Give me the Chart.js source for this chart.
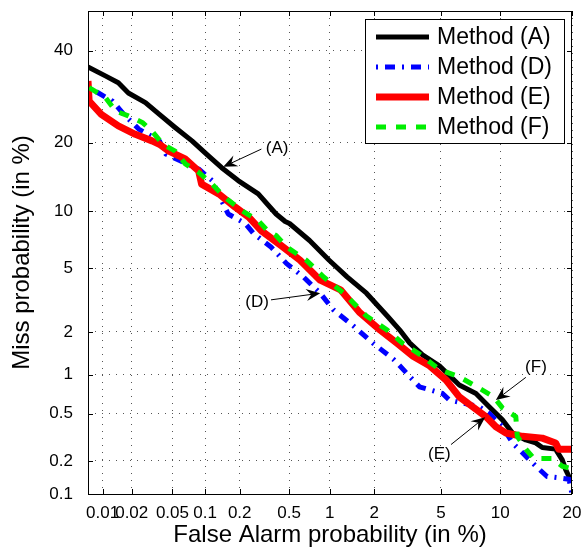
<!DOCTYPE html>
<html>
<head>
<meta charset="utf-8">
<script src="https://cdn.jsdelivr.net/npm/chart.js@4.4.1/dist/chart.umd.min.js"></script>
<style>
body { margin: 0; background: #fff; }
</style>
</head>
<body>
<canvas id="grafico" width="584" height="550"></canvas>
<script>
// tick values (in %) and their labels
const xTicks = [0.01, 0.02, 0.05, 0.1, 0.2, 0.5, 1, 2, 5, 10, 20];
const xLabels = ['0.01', '0.02', '0.05', '0.1', '0.2', '0.5', '1', '2', '5', '10', '20'];
const yTicks = [0.1, 0.2, 0.5, 1, 2, 5, 10, 20, 40];
const yLabels = ['0.1', '0.2', '0.5', '1', '2', '5', '10', '20', '40'];

// [false alarm %, miss %]
const methodA = [[0.007,36],[0.0107,33.9],[0.0146,32.3],[0.0185,30],[0.0274,27.9],[0.0375,25.4],[0.053,22.8],[0.076,20.3],[0.107,17.7],[0.14,15.8],[0.194,13.9],[0.285,12.1],[0.396,9.7],[0.467,8.9],[0.504,8.7],[0.714,7.1],[0.99,5.54],[1.32,4.45],[1.78,3.55],[2.42,2.55],[2.89,2.06],[3.32,1.68],[3.94,1.39],[4.9,1.16],[6.27,0.835],[7.63,0.72],[8.86,0.567],[10.24,0.445],[11.39,0.347],[13.04,0.303],[14.36,0.286],[15.3,0.261],[17.3,0.253],[18.37,0.204],[18.93,0.167],[19.48,0.145],[20,0.135]];
const methodD = [[0.007,31],[0.0084,30.4],[0.0127,28.2],[0.0167,25.4],[0.0235,22.5],[0.0375,20.3],[0.0433,18],[0.0591,16.9],[0.0874,15.6],[0.1155,13.9],[0.136,11.6],[0.1595,9.7],[0.223,8.69],[0.262,7.7],[0.361,6.55],[0.479,5.3],[0.641,4.45],[0.854,3.55],[1.06,2.8],[1.47,2.18],[1.96,1.68],[2.65,1.29],[2.89,1.16],[3.78,0.81],[5.1,0.72],[5.56,0.64],[7.91,0.567],[8.86,0.502],[10.24,0.391],[11.39,0.286],[14.36,0.18],[16,0.145],[17.8,0.141],[19.5,0.137],[20,0.1]];
const methodE = [[0.007,32.7],[0.0072,28.2],[0.0097,25.4],[0.0146,23.1],[0.0217,21.5],[0.0318,20.3],[0.0375,19.7],[0.0462,18.5],[0.0657,17.2],[0.0874,15.3],[0.093,13.4],[0.132,12.1],[0.182,10.5],[0.238,9.37],[0.301,8],[0.432,6.69],[0.607,5.54],[0.854,4.25],[1.19,3.72],[1.61,2.68],[2.18,2.06],[2.77,1.68],[3.47,1.36],[4.32,1.16],[5.33,0.912],[6.27,0.678],[7.34,0.567],[8.54,0.473],[9.54,0.391],[10.63,0.347],[12.6,0.325],[15.3,0.314],[17.3,0.286],[17.8,0.253],[20,0.253]];
const methodF = [[0.0072,31.2],[0.0107,29],[0.0137,26.1],[0.0185,25.1],[0.0255,23.8],[0.0318,22.1],[0.0405,19.7],[0.053,18.5],[0.066,16.4],[0.0874,15.1],[0.1155,13.4],[0.148,11.7],[0.207,10.1],[0.285,9],[0.338,8],[0.396,7.55],[0.479,6.55],[0.676,5.54],[0.9,4.45],[1.25,3.55],[1.78,2.55],[2.42,2.06],[3.0,1.68],[3.94,1.36],[4.9,1.09],[6.27,0.963],[8.22,0.765],[9.3,0.68],[10.24,0.555],[11.78,0.473],[11.96,0.325],[13.04,0.253],[14.1,0.21],[16.8,0.21],[18.37,0.179],[19.5,0.173],[20,0.17]];

// arrow labels: text position, arrow tail and head (all in %)
const annotations = [
    { text: '(A)', at: [0.404, 18.9], from: [0.302, 18.85], to: [0.1445, 15.94] },
    { text: '(D)', at: [0.279, 3.13], from: [0.361, 3.23], to: [0.854, 3.55] },
    { text: '(F)', at: [14.4, 1.13], from: [13.04, 0.954], to: [9.54, 0.64] },
    { text: '(E)', at: [4.9, 0.228], from: [5.67, 0.277], to: [8.48, 0.468] }
];

const fonte = 'Liberation Sans, Arial, Helvetica, sans-serif';

// inverse normal cdf (Acklam)
function probit(p) {
    const a = [-3.969683028665376e+01, 2.209460984245205e+02, -2.759285104469687e+02, 1.383577518672690e+02, -3.066479806614716e+01, 2.506628277459239e+00];
    const b = [-5.447609879822406e+01, 1.615858368580409e+02, -1.556989798598866e+02, 6.680131188771972e+01, -1.328068155288572e+01];
    const c = [-7.784894002430293e-03, -3.223964580411365e-01, -2.400758277161838e+00, -2.549671010229768e+00, 4.374664141464968e+00, 2.938163982698783e+00];
    const d = [7.784695709041462e-03, 3.224671290700398e-01, 2.445134137142996e+00, 3.754408661907416e+00];
    const pl = 0.02425;
    if (p < pl) {
        const q = Math.sqrt(-2 * Math.log(p));
        return (((((c[0]*q+c[1])*q+c[2])*q+c[3])*q+c[4])*q+c[5]) / ((((d[0]*q+d[1])*q+d[2])*q+d[3])*q+1);
    }
    if (p > 1 - pl) {
        const q = Math.sqrt(-2 * Math.log(1 - p));
        return -(((((c[0]*q+c[1])*q+c[2])*q+c[3])*q+c[4])*q+c[5]) / ((((d[0]*q+d[1])*q+d[2])*q+d[3])*q+1);
    }
    const q = p - 0.5, r = q * q;
    return (((((a[0]*r+a[1])*r+a[2])*r+a[3])*r+a[4])*r+a[5])*q / (((((b[0]*r+b[1])*r+b[2])*r+b[3])*r+b[4])*r+1);
}
const z = (v) => probit(v / 100);
const pontos = (serie) => serie.map(([fa, miss]) => ({ x: z(fa), y: z(miss) }));

// no extra room for the edge labels, the layout padding decides
const semPadding = (s) => { s.paddingTop = 0; s.paddingBottom = 0; s.paddingLeft = 0; s.paddingRight = 0; };

const quadro = {
    id: 'quadro',
    afterDatasetsDraw(chart) {
        const { ctx, chartArea: ca, scales } = chart;
        ctx.save();
        // box
        ctx.strokeStyle = '#000';
        ctx.lineWidth = 1;
        ctx.setLineDash([]);
        ctx.strokeRect(ca.left + 0.5, ca.top + 0.5, ca.right - ca.left - 1, ca.bottom - ca.top);
        // inward ticks on all sides
        ctx.beginPath();
        xTicks.forEach(v => {
            const px = Math.round(scales.x.getPixelForValue(z(v))) + 0.5;
            ctx.moveTo(px, ca.bottom); ctx.lineTo(px, ca.bottom - 5);
            ctx.moveTo(px, ca.top); ctx.lineTo(px, ca.top + 5);
        });
        yTicks.forEach(v => {
            const py = Math.round(scales.y.getPixelForValue(z(v))) + 0.5;
            ctx.moveTo(ca.left, py); ctx.lineTo(ca.left + 5, py);
            ctx.moveTo(ca.right, py); ctx.lineTo(ca.right - 5, py);
        });
        ctx.stroke();

        // arrows
        ctx.fillStyle = '#000';
        ctx.font = '17px ' + fonte;
        ctx.textAlign = 'center';
        ctx.textBaseline = 'middle';
        annotations.forEach(n => {
            const x0 = scales.x.getPixelForValue(z(n.from[0])), y0 = scales.y.getPixelForValue(z(n.from[1]));
            const x1 = scales.x.getPixelForValue(z(n.to[0])), y1 = scales.y.getPixelForValue(z(n.to[1]));
            const len = Math.hypot(x1 - x0, y1 - y0);
            const ux = (x1 - x0) / len, uy = (y1 - y0) / len;
            const nx = -uy, ny = ux;
            ctx.beginPath();
            ctx.moveTo(x0, y0);
            ctx.lineTo(x1 - ux * 8, y1 - uy * 8);
            ctx.stroke();
            ctx.beginPath();
            ctx.moveTo(x1, y1);
            ctx.lineTo(x1 - ux * 14 + nx * 6, y1 - uy * 14 + ny * 6);
            ctx.lineTo(x1 - ux * 9, y1 - uy * 9);
            ctx.lineTo(x1 - ux * 14 - nx * 6, y1 - uy * 14 - ny * 6);
            ctx.closePath();
            ctx.fill();
            ctx.fillText(n.text, scales.x.getPixelForValue(z(n.at[0])), scales.y.getPixelForValue(z(n.at[1])));
        });

        // legend
        const lx = 365, ly = 19, lw = 199, lh = 124;
        ctx.fillStyle = '#fff';
        ctx.fillRect(lx, ly, lw, lh);
        ctx.strokeStyle = '#000';
        ctx.lineWidth = 1;
        ctx.strokeRect(lx + 0.5, ly + 0.5, lw, lh);
        ctx.font = '23px ' + fonte;
        ctx.textAlign = 'left';
        chart.data.datasets.forEach((ds, i) => {
            const yy = ly + 18 + i * 30;
            ctx.strokeStyle = ds.borderColor;
            ctx.lineWidth = ds.borderWidth;
            ctx.setLineDash(ds.borderDash || []);
            ctx.lineCap = 'butt';
            ctx.beginPath();
            ctx.moveTo(lx + 11, yy);
            ctx.lineTo(lx + 64, yy);
            ctx.stroke();
            ctx.setLineDash([]);
            ctx.fillStyle = '#000';
            ctx.fillText(ds.label, lx + 72, yy + 1);
        });
        ctx.restore();
    }
};

const ctx = document.getElementById('grafico');

new Chart(ctx, {
    type: 'line',
    data: {
        datasets: [
            { label: 'Method (A)', data: pontos(methodA), borderColor: '#000000', borderWidth: 5, order: 4 },
            { label: 'Method (D)', data: pontos(methodD), borderColor: '#0000ff', borderWidth: 5, borderDash: [2, 7, 10, 7], order: 3 },
            { label: 'Method (E)', data: pontos(methodE), borderColor: '#ff0000', borderWidth: 7, order: 2 },
            { label: 'Method (F)', data: pontos(methodF), borderColor: '#00ee00', borderWidth: 5, borderDash: [10, 10], order: 1 }
        ]
    },
    options: {
        responsive: false,
        animation: false,
        parsing: false,
        elements: {
            point: { radius: 0 },
            line: { tension: 0, borderJoinStyle: 'round', fill: false }
        },
        layout: { padding: { left: 0, right: 12, top: 11, bottom: 0 } },
        plugins: { legend: { display: false }, tooltip: { enabled: false } },
        scales: {
            x: {
                type: 'linear',
                min: z(0.007),
                max: z(20),
                afterBuildTicks: (s) => { s.ticks = xTicks.map(v => ({ value: z(v) })); },
                afterFit: (s) => { s.height = 56; semPadding(s); },
                ticks: {
                    autoSkip: false, maxRotation: 0, padding: 9, color: '#000',
                    font: { family: fonte, size: 17 },
                    callback: (v, i) => xLabels[i]
                },
                grid: { color: '#555', lineWidth: 1, drawTicks: false },
                border: { display: false, dash: [1, 6] },
                title: {
                    display: true, text: 'False Alarm probability (in %)', color: '#000',
                    font: { family: fonte, size: 24 }, padding: { top: 0, bottom: 0 }
                }
            },
            y: {
                type: 'linear',
                min: z(0.1),
                max: z(50),
                afterBuildTicks: (s) => { s.ticks = yTicks.map(v => ({ value: z(v) })); },
                afterFit: (s) => { s.width = 88; semPadding(s); },
                ticks: {
                    autoSkip: false, padding: 15, color: '#000',
                    font: { family: fonte, size: 17 },
                    callback: (v, i) => yLabels[i]
                },
                grid: { color: '#555', lineWidth: 1, drawTicks: false },
                border: { display: false, dash: [1, 6] },
                title: {
                    display: true, text: 'Miss probability (in %)', color: '#000',
                    font: { family: fonte, size: 24 }, padding: { top: 8, bottom: 0 }
                }
            }
        }
    },
    plugins: [quadro]
});
</script>
</body>
</html>
